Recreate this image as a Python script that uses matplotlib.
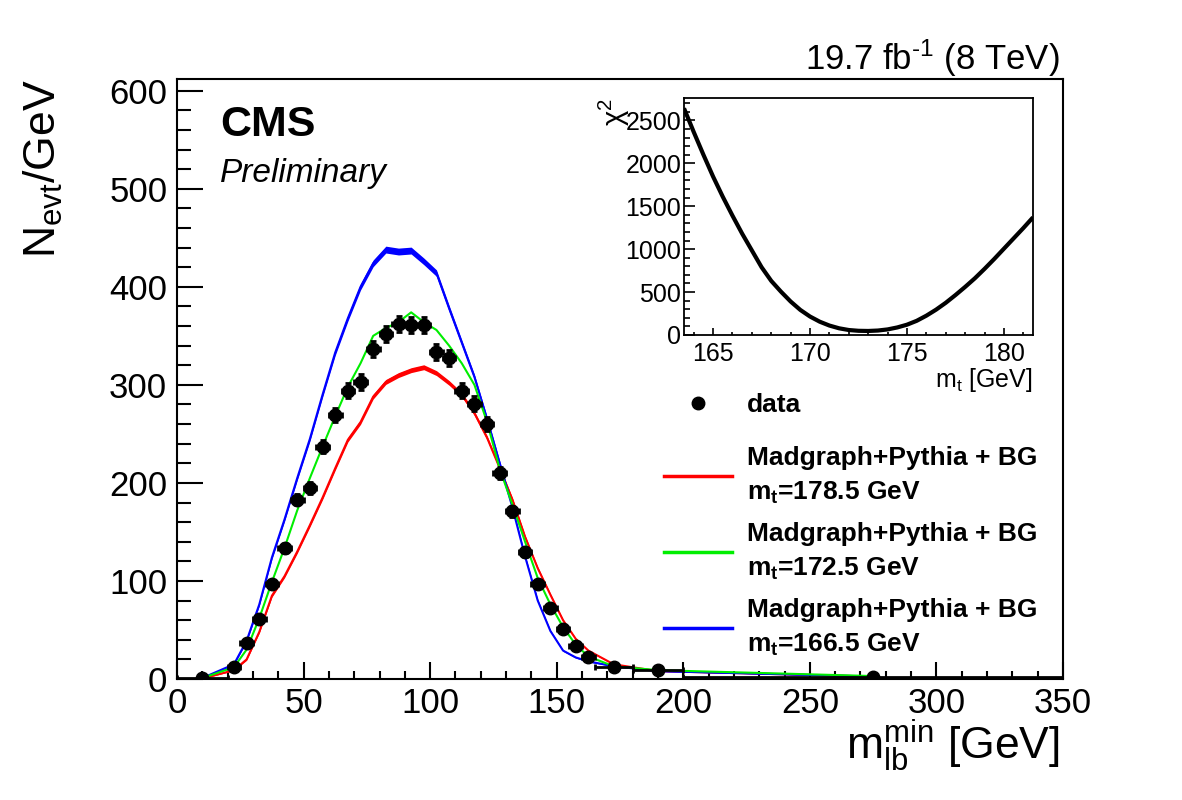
import matplotlib
matplotlib.use("Agg")
import matplotlib.pyplot as plt
from matplotlib.lines import Line2D
from matplotlib.ticker import MultipleLocator
import numpy as np

plt.rcParams['font.family'] = ['Liberation Sans', 'DejaVu Sans']
plt.rcParams['mathtext.fontset'] = 'custom'
plt.rcParams['mathtext.rm'] = 'Liberation Sans'
plt.rcParams['mathtext.it'] = 'Liberation Sans:italic'
plt.rcParams['mathtext.bf'] = 'Liberation Sans:bold'

# ---------------- data ----------------
bin_centers = [10, 22.5, 27.5, 32.5, 37.5, 42.5, 47.5, 52.5, 57.5, 62.5, 67.5,
               72.5, 77.5, 82.5, 87.5, 92.5, 97.5, 102.5, 107.5, 112.5, 117.5,
               122.5, 127.5, 132.5, 137.5, 142.5, 147.5, 152.5, 157.5, 162.5,
               172.5, 190, 275]
bin_halfwidths = [10] + [2.5] * 29 + [7.5, 10, 75]

data_values = [1, 12, 37, 61, 97, 134, 183, 195, 237, 269, 294,
               303, 337, 352, 362, 361, 361, 334, 327, 294, 281,
               260, 210, 171, 130, 97, 72, 51, 34, 22,
               12, 9, 2]
data_errors = [0.3, 1.5, 2.7, 3.5, 4.4, 5.2, 6.0, 6.3, 6.9, 7.3, 7.7,
               7.8, 8.2, 8.4, 8.5, 8.5, 8.5, 8.2, 8.1, 7.7, 7.5,
               7.2, 6.5, 5.9, 5.1, 4.4, 3.8, 3.2, 2.6, 2.1,
               0.9, 0.7, 0.1]

mc_1785 = [0.5, 9, 20, 48, 85, 105, 130, 157, 185, 215, 244,
           262, 288, 303, 310, 315, 318, 312, 302, 290, 271,
           246, 215, 183, 145, 113, 86, 60, 41, 29,
           15, 8, 2.5]
mc_1785_err = [0.2, 0.6, 0.9, 1.2, 1.5, 1.6, 1.8, 1.9, 2.0, 2.1, 2.2,
               2.3, 2.4, 2.5, 2.5, 2.5, 2.5, 2.5, 2.4, 2.3, 2.2,
               2.1, 2.0, 1.8, 1.6, 1.4, 1.2, 1.0, 0.8, 0.7,
               0.4, 0.3, 0.1]

mc_1725 = [1, 12, 30, 62, 99, 134, 172, 205, 237, 268, 298,
           322, 350, 358, 364, 374, 364, 356, 340, 322, 300,
           262, 214, 178, 140, 103, 76, 53, 35, 23,
           13, 9, 3]

mc_1665 = [1, 15, 39, 76, 124, 163, 205, 245, 290, 333, 368,
           400, 424, 438, 436, 437, 426, 414, 378, 343, 308,
           265, 220, 175, 125, 80, 49, 29, 22, 18,
           13, 8, 2.5]
mc_1665_err = [0.2, 0.7, 1.1, 1.5, 1.9, 2.1, 2.3, 2.5, 2.7, 2.9, 3.0,
               3.2, 3.4, 3.5, 3.5, 3.5, 3.4, 3.3, 3.1, 2.9, 2.7,
               2.5, 2.2, 1.9, 1.6, 1.3, 1.0, 0.8, 0.7, 0.6,
               0.4, 0.3, 0.1]

chi2_mt = [163.5, 164.0, 164.5, 165.0, 165.5, 166.0, 166.5, 167.0, 167.5,
           168.0, 168.5, 169.0, 169.5, 170.0, 170.5, 171.0, 171.5, 172.0,
           172.5, 173.0, 173.5, 174.0, 174.5, 175.0, 175.5, 176.0, 176.5,
           177.0, 177.5, 178.0, 178.5, 179.0, 179.5, 180.0, 180.5, 181.0,
           181.5]
chi2_values = [2640, 2365, 2100, 1845, 1610, 1390, 1180, 985, 790,
               630, 505, 390, 292, 215, 155, 110, 78, 58,
               49, 47, 52, 65, 88, 120, 165, 225, 295,
               375, 465, 560, 660, 770, 885, 1005, 1125, 1245,
               1370]

legend_mc_labels = [r"Madgraph+Pythia + BG" + "\n" + r"$\mathbf{m_t}$=178.5 GeV",
                    r"Madgraph+Pythia + BG" + "\n" + r"$\mathbf{m_t}$=172.5 GeV",
                    r"Madgraph+Pythia + BG" + "\n" + r"$\mathbf{m_t}$=166.5 GeV"]

RED = '#ff0000'
GREEN = '#00ee00'
BLUE = '#0000ff'

# ---------------- figure ----------------
W, H = 1182, 800
fig = plt.figure(figsize=(W / 100, H / 100), dpi=100)
ax = fig.add_axes([177 / W, 121 / H, 886 / W, 600 / H])

x = np.array(bin_centers)
for vals, errs, col in [(mc_1785, mc_1785_err, RED), (mc_1665, mc_1665_err, BLUE)]:
    v = np.array(vals); e = np.array(errs)
    ax.fill_between(x, v - e, v + e, color=col, lw=0, zorder=2)
    ax.plot(x, v, color=col, lw=1.5, zorder=2)
ax.plot(x, mc_1725, color=GREEN, lw=1.5, zorder=2)

ax.errorbar(bin_centers, data_values, yerr=data_errors, xerr=bin_halfwidths,
            fmt='o', color='k', ms=9, elinewidth=2, capsize=2.5, capthick=2,
            zorder=4)

ax.set_xlim(0, 350)
ax.set_ylim(0, 612)
ax.xaxis.set_major_locator(MultipleLocator(50))
ax.xaxis.set_minor_locator(MultipleLocator(10))
ax.yaxis.set_major_locator(MultipleLocator(100))
ax.yaxis.set_minor_locator(MultipleLocator(20))
ax.tick_params(which='both', direction='in', top=False, right=False, width=1.5,
               labelsize=25)
ax.tick_params(axis='x', which='major', length=12, pad=6)
ax.tick_params(axis='x', which='minor', length=6)
ax.tick_params(axis='y', which='major', length=19, pad=7)
ax.tick_params(axis='y', which='minor', length=10)
for s in ax.spines.values():
    s.set_linewidth(1.5)

ax.set_ylabel(r"N$_{\mathrm{evt}}$/GeV", fontsize=32, loc='top')
ax.yaxis.set_label_coords(-0.126, 1.0)
ax.set_xlabel(r"m$_{\mathrm{lb}}^{\mathrm{min}}$ [GeV]", fontsize=32, loc='right')
ax.xaxis.set_label_coords(0.9966, -0.065)

ax.text(0.0485, 0.905, "CMS", transform=ax.transAxes, fontsize=31,
        fontweight='bold', va='baseline', ha='left')
ax.text(0.0485, 0.829, "Preliminary", transform=ax.transAxes, fontsize=24,
        fontstyle='italic', va='baseline', ha='left')
ax.text(0.9966, 1.015, r"19.7 fb$^{\text{-1}}$ (8 TeV)", transform=ax.transAxes,
        fontsize=25, va='baseline', ha='right')

# legends
fs = 19
hl = 68 / (fs * 100 / 72)
htp = 15 / (fs * 100 / 72)
leg1 = fig.legend([Line2D([], [], marker='o', color='k', ls='none', ms=9)], ['data'],
                  loc='center left', bbox_to_anchor=(664 / W, 1 - 405 / H),
                  frameon=False, borderpad=0, borderaxespad=0,
                  handlelength=hl, handletextpad=htp,
                  prop={'size': fs, 'weight': 'bold'})
mc_handles = [Line2D([], [], color=c, lw=2.5) for c in (RED, GREEN, BLUE)]
leg2 = fig.legend(mc_handles, legend_mc_labels,
                  loc='center left', bbox_to_anchor=(664 / W, 1 - 552 / H),
                  frameon=False, borderpad=0, borderaxespad=0,
                  handlelength=hl, handletextpad=htp, labelspacing=0.62,
                  prop={'size': fs, 'weight': 'bold'})
for t in leg2.get_texts():
    t.set_linespacing(1.48)

# inset
ax2 = fig.add_axes([684 / W, (H - 335) / H, 349 / W, 237 / H])
ax2.set_facecolor('white')
ax2.plot(chi2_mt, chi2_values, color='k', lw=3, solid_capstyle='butt',
         solid_joinstyle='round')
ax2.set_xlim(163.5, 181.5)
ax2.set_ylim(0, 2760)
ax2.xaxis.set_major_locator(MultipleLocator(5))
ax2.xaxis.set_minor_locator(MultipleLocator(1))
ax2.yaxis.set_major_locator(MultipleLocator(500))
ax2.yaxis.set_minor_locator(MultipleLocator(100))
ax2.tick_params(which='both', direction='in', top=False, right=False, width=1.2,
                labelsize=18)
ax2.tick_params(axis='x', which='major', length=5, pad=5)
ax2.tick_params(axis='x', which='minor', length=2.5)
ax2.tick_params(axis='y', which='major', length=8, pad=2)
ax2.tick_params(axis='y', which='minor', length=4)
for s in ax2.spines.values():
    s.set_linewidth(1.3)
ax2.set_xlabel(r"m$_{\mathrm{t}}$ [GeV]", fontsize=18, loc='right')
ax2.xaxis.set_label_coords(1.0, -0.132)
ax2.set_ylabel(r"χ$^{2}$", fontsize=21, loc='top')
ax2.yaxis.set_label_coords(-0.15, 1.0)

fig.savefig("out.png", dpi=100)
